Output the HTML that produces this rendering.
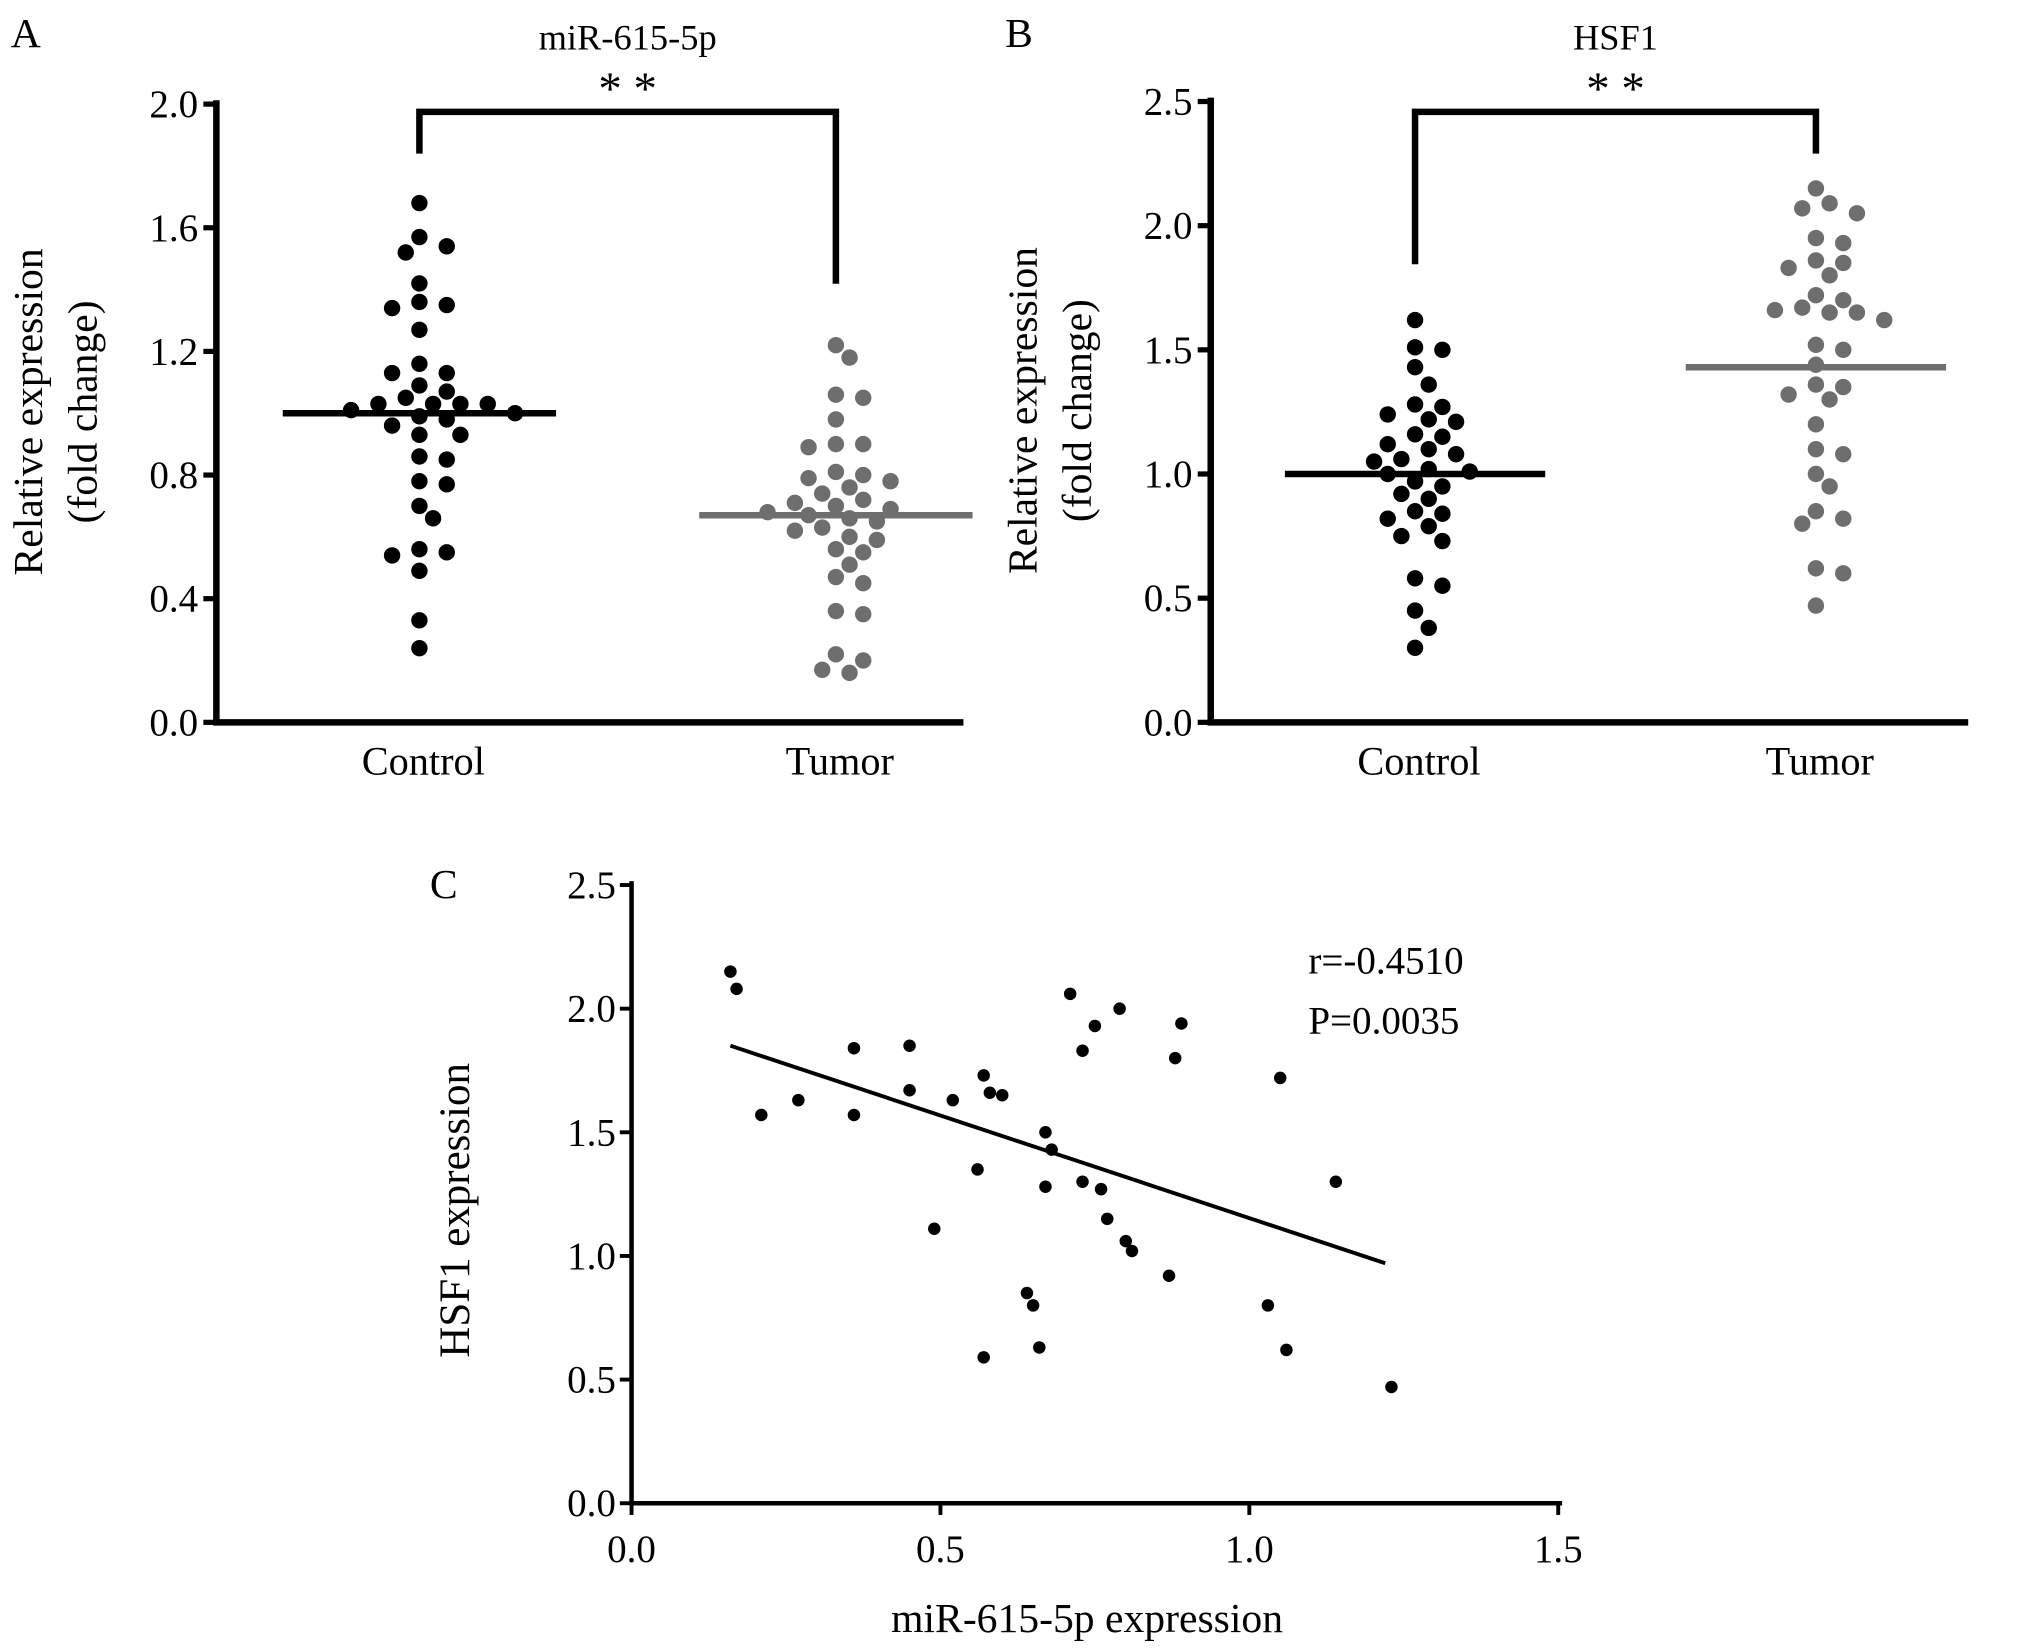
<!DOCTYPE html>
<html><head><meta charset="utf-8"><style>
html,body{margin:0;padding:0;background:#fff;}
svg{display:block;}
text{font-family:"Liberation Serif",serif;fill:#000;}
</style></head><body>
<svg id="fig" width="2031" height="1649" viewBox="0 0 1560 1267" xmlns="http://www.w3.org/2000/svg"></svg>
<script>
// Panel A data
const aCategories = ["Control","Tumor"];
const aControl = [1.68,1.57,1.54,1.52,1.42,1.36,1.35,1.34,1.27,1.16,1.13,1.13,1.09,1.07,1.05,1.03,1.03,1.03,1.03,1.01,1.00,0.99,0.98,0.96,0.93,0.93,0.86,0.85,0.78,0.77,0.70,0.66,0.56,0.55,0.54,0.49,0.33,0.24];
const aTumor = [1.22,1.18,1.06,1.05,0.98,0.90,0.90,0.89,0.81,0.80,0.79,0.78,0.76,0.74,0.72,0.71,0.70,0.69,0.68,0.67,0.66,0.65,0.63,0.62,0.60,0.59,0.56,0.55,0.51,0.47,0.45,0.36,0.35,0.22,0.20,0.17,0.16];
const aMeans = [1.0,0.67];
const aTicks = [0.0,0.4,0.8,1.2,1.6,2.0];
// Panel B data
const bCategories = ["Control","Tumor"];
const bControl = [1.62,1.51,1.50,1.43,1.36,1.28,1.27,1.24,1.22,1.21,1.16,1.15,1.12,1.10,1.08,1.06,1.05,1.02,1.01,1.00,0.97,0.95,0.92,0.90,0.85,0.84,0.82,0.79,0.75,0.73,0.58,0.55,0.45,0.38,0.30];
const bTumor = [2.15,2.09,2.07,2.05,1.95,1.93,1.86,1.85,1.83,1.80,1.72,1.70,1.67,1.66,1.65,1.65,1.62,1.52,1.50,1.44,1.36,1.35,1.32,1.30,1.20,1.10,1.08,1.00,0.95,0.85,0.82,0.80,0.62,0.60,0.47];
const bMeans = [1.0,1.43];
const bTicks = [0.0,0.5,1.0,1.5,2.0,2.5];
// Panel C data
const cX = [0.16,0.17,0.21,0.27,0.36,0.36,0.45,0.45,0.49,0.52,0.56,0.57,0.58,0.60,0.57,0.64,0.65,0.66,0.67,0.67,0.68,0.71,0.73,0.73,0.75,0.76,0.77,0.79,0.80,0.81,0.87,0.88,0.89,1.03,1.05,1.06,1.14,1.23];
const cY = [2.15,2.08,1.57,1.63,1.84,1.57,1.85,1.67,1.11,1.63,1.35,1.73,1.66,1.65,0.59,0.85,0.80,0.63,1.50,1.28,1.43,2.06,1.83,1.30,1.93,1.27,1.15,2.00,1.06,1.02,0.92,1.80,1.94,0.80,1.72,0.62,1.30,0.47];
const cFit = [1.983,-0.83]; // intercept, slope
const cFitRange = [0.16,1.22];
const cXTicks = [0.0,0.5,1.0,1.5];
const cYTicks = [0.0,0.5,1.0,1.5,2.0,2.5];

const NS="http://www.w3.org/2000/svg";
const svg=document.getElementById('fig');
function mk(tag,attrs,parent){const e=document.createElementNS(NS,tag);for(const k in attrs)e.setAttribute(k,attrs[k]);(parent||svg).appendChild(e);return e;}
function txt(x,y,s,size,anchor,parent,extra){const t=mk('text',Object.assign({x:x,y:y,'font-size':size,'text-anchor':anchor||'middle'},extra||{}),parent);t.textContent=s;return t;}

function beeswarm(vals,yf,cx,step,diam){
  const placed=[];const out=[];
  vals.forEach(v=>{const y=yf(v);let k=0,x;
    while(true){const offs=k===0?[0]:[k*step,-k*step];let ok=null;
      for(const o of offs){const xx=cx+o;if(placed.every(p=>Math.hypot(p[0]-xx,p[1]-y)>=diam)){ok=xx;break;}}
      if(ok!==null){x=ok;break;}k++;}
    placed.push([x,y]);out.push([x,y]);});
  return out;
}

function dotPanel(name,letter,title,x0,xEnd,y0,yTop,tickMax,ticks,cats,cxs,groups,means,colors,bracketY,bracketBottoms,meanHalf){
  const g=mk('g',{},svg);
  
  
  const yf=v=>y0-(v/tickMax)*(y0-yTop);
  const L=txt(x0-158,36,letter,32,'start',g);
  
  
  const T=txt((cxs[0]+cxs[1])/2,38,title,28,'middle',g);
  
  
  const ax=mk('path',{d:`M${x0} ${yTop-3} V${y0} H${xEnd}`,stroke:'#000','stroke-width':5,fill:'none'},g);
  
  
  ticks.forEach(t=>{const y=yf(t);
    const tk=mk('line',{x1:x0-10,x2:x0,y1:y,y2:y,stroke:'#000','stroke-width':4},g);
    
    
    const tl=txt(x0-14,y+10,t.toFixed(1),30,'end',g);
    
    });
  cats.forEach((c,i)=>{const tl=txt(cxs[i]+3,y0+40,c,31,'middle',g);
    
    });
  const yt=txt(0,0,'Relative expression',32,'middle',g,{transform:`translate(${x0-134},${(y0+yTop)/2-1}) rotate(-90)`});
  
  
  const yt2=txt(0,0,'(fold change)',32,'middle',g,{transform:`translate(${x0-92},${(y0+yTop)/2-1}) rotate(-90)`});
  
  
  groups.forEach((vals,i)=>{
    const pts=beeswarm(vals,yf,cxs[i],10.5,13.5);
    pts.forEach(p=>{const c=mk('circle',{cx:p[0],cy:p[1],r:6.3,fill:colors[i]},g);
      
      });
    const m=mk('line',{x1:cxs[i]-meanHalf,x2:cxs[i]+meanHalf,y1:yf(means[i]),y2:yf(means[i]),stroke:colors[i],'stroke-width':5},g);
    
    
  });
  const br=mk('path',{d:`M${cxs[0]} ${bracketBottoms[0]} V${bracketY} H${cxs[1]} V${bracketBottoms[1]}`,stroke:'#000','stroke-width':5,fill:'none'},g);
  
  
  const st=txt((cxs[0]+cxs[1])/2,80,'* *',36,'middle',g);
  
  
}
dotPanel('panel-a','A','miR-615-5p',166,740,555,80,2.0,aTicks,aCategories,[322,642],[aControl,aTumor],aMeans,['#000','#6e6e6e'],86,[118,218],105);
dotPanel('panel-b','B','HSF1',930,1512,555,78,2.5,bTicks,bCategories,[1087,1395],[bControl,bTumor],bMeans,['#000','#6e6e6e'],86,[203,118],100);

// Panel C
(function(){
  const g=mk('g',{},svg);
  
  
  const x0=485,y0=1155,yTop=680,xR=1197;
  const xf=v=>x0+v/1.5*(xR-x0);
  const yf=v=>y0-v/2.5*(y0-yTop);
  const L=txt(330,690,'C',32,'start',g);
  
  
  const ax=mk('path',{d:`M${x0} ${yTop-3} V${y0} H${xR+3}`,stroke:'#000','stroke-width':3.5,fill:'none'},g);
  
  
  cYTicks.forEach(t=>{const y=yf(t);
    const tk=mk('line',{x1:x0-9,x2:x0,y1:y,y2:y,stroke:'#000','stroke-width':3},g);
    
    
    const tl=txt(x0-12,y+10,t.toFixed(1),30,'end',g);
    
    });
  cXTicks.forEach(t=>{const x=xf(t);
    const tk=mk('line',{x1:x,x2:x,y1:y0,y2:y0+9,stroke:'#000','stroke-width':3},g);
    
    
    const tl=txt(x,y0+45,t.toFixed(1),30,'middle',g);
    
    });
  const xt=txt(835,1254,'miR-615-5p expression',32,'middle',g);
  
  
  const yt=txt(0,0,'HSF1 expression',33,'middle',g,{transform:`translate(360,930) rotate(-90)`});
  
  
  cX.forEach((v,i)=>{const c=mk('circle',{cx:xf(v),cy:yf(cY[i]),r:4.8,fill:'#000'},g);
    
    });
  const fy=x=>cFit[0]+cFit[1]*x;
  const fl=mk('line',{x1:xf(cFitRange[0]),y1:yf(fy(cFitRange[0])),x2:xf(cFitRange[1]),y2:yf(fy(cFitRange[1])),stroke:'#000','stroke-width':3},g);
  
  
  const r=txt(1005,748,'r=-0.4510',30,'start',g);
  
  
  const p=txt(1005,794,'P=0.0035',30,'start',g);
  
  
})();
</script>
</body></html>
